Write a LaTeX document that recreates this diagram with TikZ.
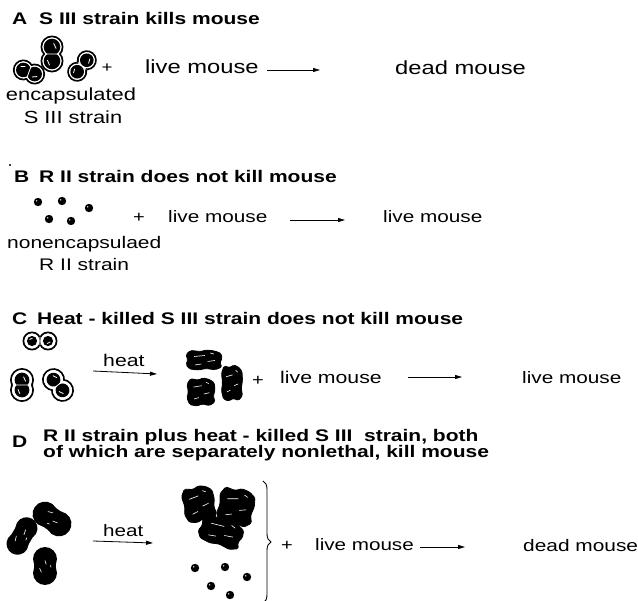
\documentclass[tikz,border=0pt]{standalone}
\usepackage{fontspec}
\setmainfont{Liberation Sans}[FakeStretch=1.25]
\usetikzlibrary{arrows.meta,decorations.pathreplacing}

% capsulated diplococcus: x, y, angle, length, width, ring
\newcommand{\scell}[6]{%
  \begin{scope}[shift={(#1,#2)},rotate=#3]
    \pgfmathsetmacro\cellR{#5/2}
    \pgfmathsetmacro\cellD{#4/2-#5/2}
    \pgfmathsetmacro\cellW{#5/2-0.9}
    \pgfmathsetmacro\cellI{#5/2-#6}
    \draw[line width=1.9pt] (-\cellD,0) circle (\cellR pt) (\cellD,0) circle (\cellR pt);
    \fill[white] (-\cellD,0) circle (\cellW pt) (\cellD,0) circle (\cellW pt);
    \fill (-\cellD,0) circle (\cellI pt);
    \fill (\cellD,0) circle (\cellI pt);
    \draw[white,line width=0.8pt]
      ({-\cellD-0.5*\cellI},{-0.3*\cellI}) -- ({-\cellD+0.1*\cellI},{-0.55*\cellI})
      ({\cellD-0.2*\cellI},{0.5*\cellI}) -- ({\cellD+0.45*\cellI},{0.2*\cellI})
      (0,{-0.8*\cellI}) -- (0,{0.8*\cellI});
  \end{scope}}
% dark cell without capsule: x, y, angle, length, width
\newcommand{\dcell}[5]{%
  \begin{scope}[shift={(#1,#2)},rotate=#3]
    \pgfmathsetmacro\cellR{#5/2}
    \pgfmathsetmacro\cellD{#4/2-#5/2}
    \fill (-\cellD,0) circle (\cellR pt);
    \fill (\cellD,0) circle (\cellR pt);
    \fill ({-\cellD},{-0.9*\cellR}) rectangle (\cellD,{0.9*\cellR});
    \draw[white,line width=0.6pt]
      ({-0.9*\cellD},{-0.3*\cellR}) -- ({-0.3*\cellD},{-0.45*\cellR})
      ({0.2*\cellD},{0.1*\cellR}) -- ({0.8*\cellD},{0.0*\cellR})
      ({-0.2*\cellD},{0.5*\cellR}) -- ({0.1*\cellD},{0.45*\cellR});
  \end{scope}}
% heat-killed clump: x, y, angle, width, height
\newcommand{\kblob}[5]{%
  \begin{scope}[shift={(#1,#2)},rotate=#3,xscale=#4/2,yscale=#5/2]
    \filldraw[line width=0.8pt,rounded corners=1.5pt] (-1,-.55) -- (-.75,-.95) -- (-.2,-.85)
      -- (.15,-1) -- (.6,-.9) -- (.95,-.65) -- (1,-.15) -- (.88,.3) -- (1,.7) -- (.62,.97)
      -- (.1,.85) -- (-.3,1) -- (-.8,.9) -- (-1,.45) -- (-.9,0) -- cycle;
    \draw[white,line width=0.6pt] (-.55,-.35) -- (.05,-.45) (.2,.15) -- (.6,.05)
      (-.5,.5) -- (-.15,.4) (.35,-.7) -- (.55,-.6);
  \end{scope}}
% small rough coccus
\newcommand{\rdot}[2]{%
  \fill (#1,#2) circle (4.2pt);
  \fill[white] ({#1-1.3},{#2-1.1}) circle (0.7pt);}

\begin{document}
\begin{tikzpicture}[x=1pt,y=-1pt,
  head/.style={inner sep=0pt,anchor=base west,font=\fontsize{16.8}{18}\selectfont\bfseries},
  txt/.style={inner sep=0pt,anchor=base west,font=\fontsize{#1}{#1}\selectfont},
  txt/.default=16.8,
  sgn/.style={inner sep=0pt,font=\fontsize{#1}{#1}\selectfont},
  sgn/.default=16,
  arr/.style={-{Triangle[length=7pt,width=4pt]},line width=0.8pt},
  brc/.style={decorate,decoration={brace,amplitude=8pt},line width=0.9pt},
]
  \useasboundingbox (0,0) rectangle (638,601);

  % A
  \node[head] (letA) at (12,25) {A};
  \node[head] (ttlA) at (39,25) {S III strain kills mouse};
  \scell{29}{72}{-20}{31}{19}{2.2}
  \scell{52}{54}{90}{35}{21}{2.2}
  \scell{82}{66}{50}{33}{18}{2.2}
  \node[sgn=15] (plusA) at (107,68) {+};
  \node[txt=19] (liveA) at (145,74) {live mouse};
  \node[txt=19] (deadA) at (395,75) {dead mouse};
  \node[txt=17.5,anchor=base] (encA) at (71,101) {encapsulated};
  \node[txt=17.5,anchor=base] (strA) at (73,124) {S III strain};
  \coordinate (arA1) at (267,70);
  \coordinate (arA2) at (320,70);
  \draw[arr] (arA1) -- (arA2);

  % B
  \fill (10,165) circle (1.2pt);
  \node[head] (letB) at (14,183) {B};
  \node[head] (ttlB) at (39,183) {R II strain does not kill mouse};
  \rdot{38}{202}
  \rdot{62}{201}
  \rdot{89}{208}
  \rdot{49}{219}
  \rdot{71}{221}
  \node[sgn] (plusB) at (139,218) {+};
  \node[txt=16.6] (liveB) at (168,223) {live mouse};
  \node[txt=16.6] (liveB2) at (383,223) {live mouse};
  \node[txt] (nencB) at (7,249) {nonencapsulaed};
  \node[txt] (strB) at (39,271) {R II strain};
  \coordinate (arB1) at (290,220);
  \coordinate (arB2) at (345,220);
  \draw[arr] (arB1) -- (arB2);

  % C
  \node[head] (letC) at (12,325) {C};
  \node[head] (ttlC) at (37,325) {Heat - killed S III strain does not kill mouse};
  \scell{40}{341}{0}{33}{17}{3.4}
  \scell{22}{385}{90}{32}{22}{3.6}
  \scell{58}{385}{-50}{35}{21}{3.6}
  \node[txt=17] (heatC) at (103,367) {heat};
  \coordinate (arC1) at (93,371);
  \coordinate (arC2) at (157,374);
  \draw[arr] (arC1) -- (arC2);
  \kblob{204}{360}{0}{36}{20}
  \kblob{232}{383}{0}{21}{36}
  \kblob{201}{392}{0}{28}{28}
  \node[sgn] (plusC) at (258,381) {+};
  \node[txt=17] (liveC) at (280,384) {live mouse};
  \node[txt=16.6] (liveC2) at (522,384) {live mouse};
  \coordinate (arC3) at (408,377);
  \coordinate (arC4) at (462,377);
  \draw[arr] (arC3) -- (arC4);

  % D
  \node[head] (letD) at (12,448) {D};
  \node[head] (ttlD) at (43,442) {R II strain plus heat - killed S III\ \ strain, both};
  \node[head] (ttlD2) at (43,458) {of which are separately nonlethal, kill mouse};
  \dcell{22}{536}{60}{40}{22}
  \dcell{52}{519}{-35}{42}{25}
  \dcell{45}{566}{90}{38}{24}
  \node[txt=16.5] (heatD) at (103,537) {heat};
  \coordinate (arD1) at (93,541);
  \coordinate (arD2) at (153,543);
  \draw[arr] (arD1) -- (arD2);
  \kblob{199}{504}{10}{32}{36}
  \kblob{236}{507}{-10}{36}{38}
  \kblob{221}{532}{-20}{44}{28}
  \rdot{195}{568}
  \rdot{225}{567}
  \rdot{247}{577}
  \rdot{211}{586}
  \rdot{230}{595}
  \coordinate (brT) at (263,481);
  \coordinate (brB) at (263,603);
  \draw[brc] (brT) -- (brB);
  \node[sgn] (plusD) at (287,546) {+};
  \node[txt=16.5] (liveD) at (315,551) {live mouse};
  \node[txt=16.7] (deadD) at (523,552) {dead mouse};
  \coordinate (arD3) at (420,547);
  \coordinate (arD4) at (465,547);
  \draw[arr] (arD3) -- (arD4);
\end{tikzpicture}
\end{document}
